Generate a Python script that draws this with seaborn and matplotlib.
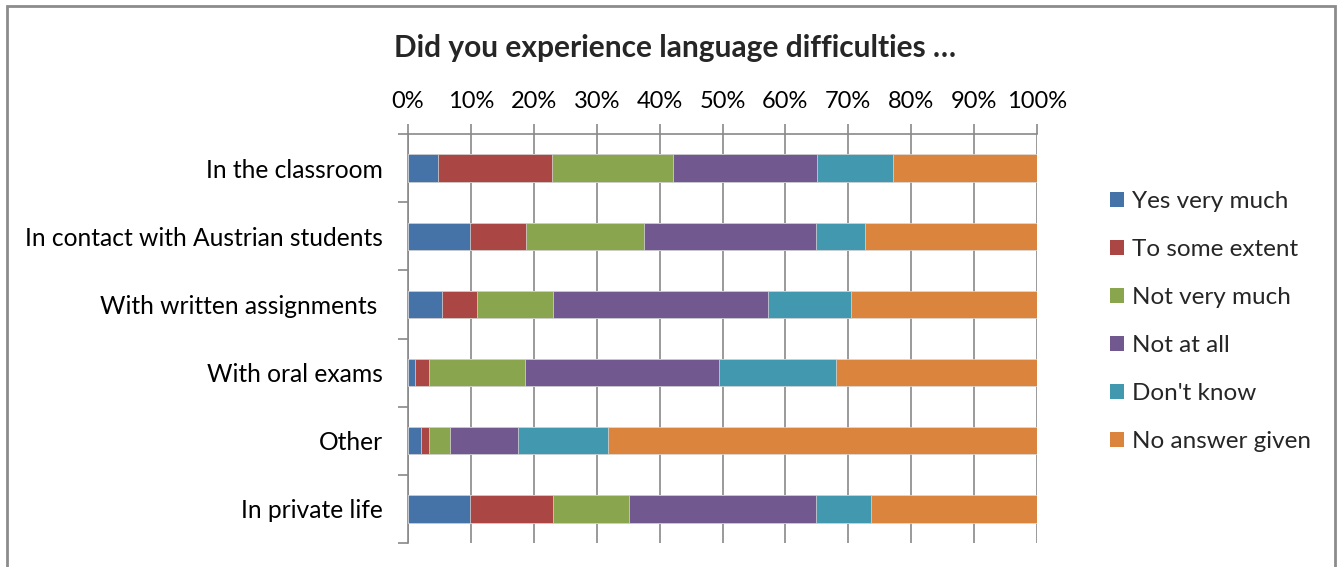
import numpy as np
import pandas as pd
import matplotlib
matplotlib.use("Agg")
import matplotlib.pyplot as plt
from matplotlib.patches import Patch
from matplotlib.ticker import FixedLocator
import seaborn as sns

# Survey answers (share of respondents, %)
categories = [
    "In the classroom",
    "In contact with Austrian students",
    "With written assignments ",
    "With oral exams",
    "Other",
    "In private life",
]
answers = ["Yes very much", "To some extent", "Not very much",
           "Not at all", "Don't know", "No answer given"]
yes_very_much = [4.8, 9.9, 5.4, 1.1, 2.1, 9.9]
to_some_extent = [18.1, 8.8, 5.6, 2.2, 1.2, 13.1]
not_very_much = [19.3, 18.8, 12.1, 15.3, 3.3, 12.1]
not_at_all = [22.9, 27.4, 34.1, 30.9, 10.9, 29.7]
dont_know = [12.0, 7.7, 13.2, 18.6, 14.3, 8.8]
no_answer = [22.9, 27.4, 29.6, 31.9, 68.2, 26.4]
x_ticks = [0, 10, 20, 30, 40, 50, 60, 70, 80, 90, 100]

colors = ["#4572A7", "#AA4643", "#89A54E", "#71588F", "#4198AF", "#DB843D"]
grid_grey = "#898989"

sns.set_theme(style="white")
plt.rcParams["font.family"] = ["Lato", "DejaVu Sans"]

series = [yes_very_much, to_some_extent, not_very_much, not_at_all, dont_know, no_answer]
df = pd.DataFrame({a: s for a, s in zip(answers, series)}, index=categories)
cum = df.cumsum(axis=1)
# Normalise every row so the stack ends exactly at 100 %
cum = cum.div(cum[answers[-1]], axis=0) * 100

W, H = 1341, 567
fig = plt.figure(figsize=(W / 100, H / 100), dpi=100)
ax = fig.add_axes([408 / W, 1 - 543 / H, (1037 - 408) / W, (543 - 134) / H])

# Stacked bars: draw cumulative totals from the last answer backwards
for ans, col in reversed(list(zip(answers, colors))):
    plot_df = pd.DataFrame({"category": categories, "value": cum[ans].values})
    sns.barplot(data=plot_df, x="value", y="category", orient="h", color=col,
                width=0.4, saturation=1, edgecolor="#dcdcdc", linewidth=0.5,
                ax=ax, zorder=3)

ax.set_xlim(0, 100)
ax.set_ylim(5.5, -0.5)
ax.set_xlabel("")
ax.set_ylabel("")

# Value axis on top
ax.xaxis.set_major_locator(FixedLocator(x_ticks))
ax.set_xticklabels([f"{t}%" for t in x_ticks])
ax.xaxis.tick_top()
ax.tick_params(axis="x", which="major", top=True, bottom=False, length=7,
               width=1.2, color=grid_grey, labelsize=17, pad=9, labelcolor="black")
ax.grid(axis="x", color=grid_grey, linewidth=1.2, zorder=0)
ax.set_axisbelow(True)

# Category axis on the left with ticks between categories
ax.yaxis.set_minor_locator(FixedLocator(np.arange(-0.5, 6.0, 1.0)))
ax.tick_params(axis="y", which="major", length=0, labelsize=17.7, pad=18,
               labelcolor="black")
ax.tick_params(axis="y", which="minor", left=True, length=7, width=1.2,
               color=grid_grey)

for side in ["bottom", "right"]:
    ax.spines[side].set_visible(False)
for side in ["top", "left"]:
    ax.spines[side].set_visible(True)
    ax.spines[side].set_color(grid_grey)
    ax.spines[side].set_linewidth(1.2)

fig.text(675 / W, 1 - 48.5 / H, "Did you experience language difficulties \u2026",
         ha="center", va="center", fontsize=21.5, fontweight="bold")

handles = [Patch(facecolor=c, edgecolor="none") for c in colors]
fig.legend(handles, answers, loc="center left",
           bbox_to_anchor=(1100 / W, 1 - 321.5 / H), frameon=False,
           fontsize=17.5, handlelength=0.6, handleheight=0.6, handletextpad=0.3,
           labelspacing=1.11, borderaxespad=0)

# Outer chart frame
fig.add_artist(plt.Rectangle((7 / W, -0.01), (1335 - 7) / W, 1 - 6 / H + 0.01,
                             transform=fig.transFigure, fill=False,
                             edgecolor="#8c8c8c", linewidth=2))

fig.savefig("out.png", dpi=100)
